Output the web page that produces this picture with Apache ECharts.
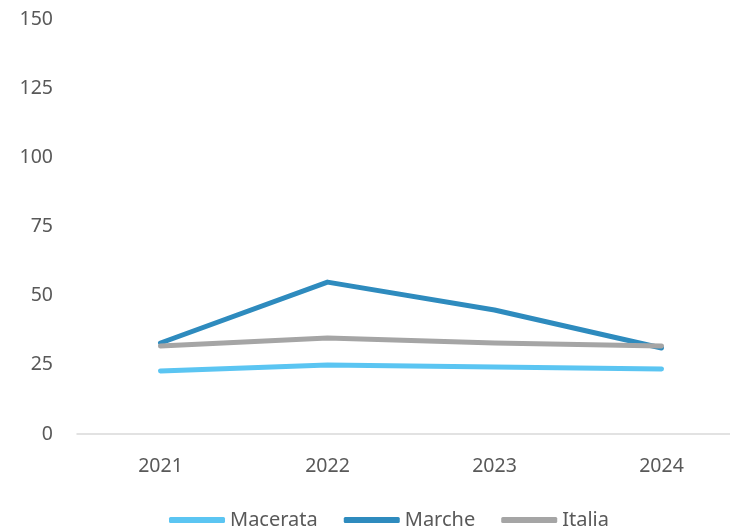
<!DOCTYPE html>
<html>
<head>
<meta charset="utf-8">
<script src="https://cdn.jsdelivr.net/npm/echarts@6/dist/echarts.min.js"></script>
<style>
  html, body { margin: 0; padding: 0; background: #fff; }
  #chart { width: 730px; height: 531px; }
</style>
</head>
<body>
<div id="chart"></div>
<script>
var years = ['2021', '2022', '2023', '2024'];
var macerata = [22.8, 24.9, 24.2, 23.5];
var marche = [32.9, 54.9, 44.8, 31.1];
var italia = [31.8, 34.7, 32.9, 31.8];

var myChart = echarts.init(document.getElementById('chart'));
var font = '"Noto Sans", sans-serif';

function makeLine(name, data, color) {
    return {
        name: name,
        type: 'line',
        data: data,
        symbol: 'none',
        lineStyle: { color: color, width: 5, cap: 'round', join: 'round' },
        itemStyle: { color: color }
    };
}

var option = {
    animation: false,
    textStyle: { fontFamily: font },
    grid: { left: 77, width: 668, top: 19, bottom: 97, outerBoundsMode: 'none', containLabel: false },
    legend: {
        top: 505,
        left: 164,
        icon: 'roundRect',
        itemWidth: 56,
        itemHeight: 6,
        itemGap: 26,
        textStyle: { color: '#595959', fontSize: 20, fontFamily: font },
        data: ['Macerata', 'Marche', 'Italia']
    },
    xAxis: {
        type: 'category',
        data: years,
        axisLine: { lineStyle: { color: '#D9D9D9', width: 1.5 } },
        axisTick: { show: false },
        axisLabel: { color: '#595959', fontSize: 19.5, margin: 22 }
    },
    yAxis: {
        type: 'value',
        min: 0,
        max: 150,
        interval: 25,
        splitLine: { show: false },
        axisLine: { show: false },
        axisTick: { show: false },
        axisLabel: { color: '#595959', fontSize: 19.5, margin: 24 }
    },
    series: [
        makeLine('Macerata', macerata, '#5BC5F2'),
        makeLine('Marche', marche, '#2E8BBE'),
        makeLine('Italia', italia, '#A5A5A5')
    ]
};

myChart.setOption(option);
</script>
</body>
</html>
